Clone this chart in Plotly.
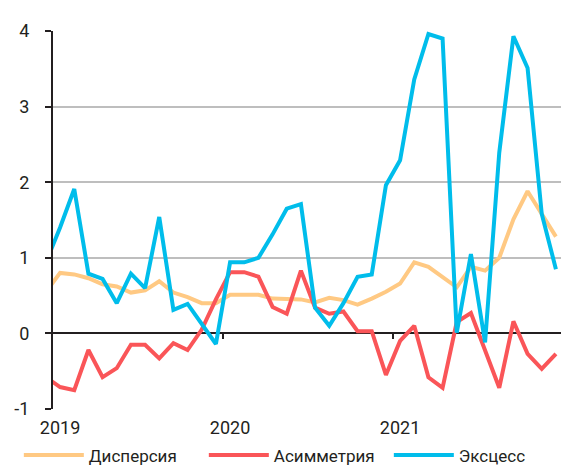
import plotly.graph_objects as go

# Monthly observations, Dec 2018 .. Dec 2021 (first point lies just left of the axis start)
months = ["2018-12",
          "2019-01", "2019-02", "2019-03", "2019-04", "2019-05", "2019-06",
          "2019-07", "2019-08", "2019-09", "2019-10", "2019-11", "2019-12",
          "2020-01", "2020-02", "2020-03", "2020-04", "2020-05", "2020-06",
          "2020-07", "2020-08", "2020-09", "2020-10", "2020-11", "2020-12",
          "2021-01", "2021-02", "2021-03", "2021-04", "2021-05", "2021-06",
          "2021-07", "2021-08", "2021-09", "2021-10", "2021-11", "2021-12"]

dispersion = [0.55,
              0.80, 0.78, 0.73, 0.65, 0.62, 0.54, 0.57, 0.69, 0.54, 0.48, 0.40, 0.40,
              0.51, 0.51, 0.51, 0.46, 0.46, 0.45, 0.41, 0.47, 0.44, 0.38, 0.46, 0.55,
              0.66, 0.94, 0.88, 0.74, 0.61, 0.88, 0.83, 1.00, 1.51, 1.88, 1.58, 1.28]

asymmetry = [-0.58,
             -0.71, -0.75, -0.22, -0.58, -0.46, -0.15, -0.15, -0.33, -0.13, -0.22, 0.05, 0.45,
             0.81, 0.81, 0.75, 0.35, 0.26, 0.83, 0.34, 0.26, 0.29, 0.03, 0.03, -0.55,
             -0.10, 0.10, -0.58, -0.72, 0.15, 0.27, -0.23, -0.72, 0.16, -0.27, -0.47, -0.27]

excess = [0.94,
          1.40, 1.91, 0.79, 0.72, 0.40, 0.79, 0.60, 1.54, 0.31, 0.39, 0.12, -0.14,
          0.94, 0.94, 1.00, 1.31, 1.65, 1.71, 0.34, 0.10, 0.40, 0.75, 0.78, 1.96,
          2.29, 3.36, 3.96, 3.90, 0.01, 1.05, -0.12, 2.39, 3.93, 3.51, 1.58, 0.85]

names = ["Дисперсия", "Асимметрия", "Эксцесс"]
colors = ["#FFC983", "#FA5558", "#00BDEB"]

year_ticks = [1, 13, 25]
year_labels = ["2019", "2020", "2021"]
boundary_ticks = [12.5, 24.5, 36.5]
y_ticks = [-1, 0, 1, 2, 3, 4]
y_labels = ["-1", "0", "1", "2", "3", "4"]

x = list(range(len(months)))

fig = go.Figure()
for name, vals, col in zip(names, [dispersion, asymmetry, excess], colors):
    fig.add_trace(go.Scatter(x=x, y=vals, mode="lines", name=name,
                             line=dict(color=col, width=4), hoverinfo="skip"))

# invisible carrier trace so the zero-crossing category axis (xaxis2) is drawn
fig.add_trace(go.Scatter(x=[x[1]], y=[0], xaxis="x2", yaxis="y", mode="lines",
                         showlegend=False, hoverinfo="skip",
                         line=dict(color="rgba(0,0,0,0)")))

font = dict(family="Roboto, sans-serif", size=18, color="#231F20")

fig.update_layout(
    width=569, height=466,
    margin=dict(l=45, r=14, t=23, b=65, autoexpand=False),
    paper_bgcolor="white", plot_bgcolor="white",
    font=font,
    showlegend=True,
    legend=dict(orientation="h", x=-0.067, xanchor="left", y=-0.075, yanchor="top",
                font=dict(family="Roboto, sans-serif", size=17, color="#231F20"),
                entrywidth=110, entrywidthmode="pixels", itemwidth=60,
                bgcolor="rgba(0,0,0,0)"),
    xaxis=dict(range=[0.5, 36.5], tickmode="array", tickvals=year_ticks, ticktext=year_labels,
               showgrid=False, zeroline=False, showline=False, ticks="",
               ticklabelstandoff=6, tickfont=font),
    xaxis2=dict(overlaying="x", matches="x", anchor="free", position=0.2,
                showline=True, linecolor="#231F20", linewidth=2,
                ticks="outside", ticklen=5, tickwidth=2, tickcolor="#231F20",
                tickmode="array", tickvals=boundary_ticks, showticklabels=False,
                showgrid=False, zeroline=False, layer="below traces"),
    yaxis=dict(range=[-1, 4], tickmode="array", tickvals=y_ticks, ticktext=y_labels,
               showgrid=True, gridcolor="#BEBEBE", gridwidth=1.5, zeroline=False,
               showline=True, linecolor="#231F20", linewidth=2,
               ticks="outside", ticklen=6, tickwidth=2, tickcolor="#231F20",
               ticklabelstandoff=12, tickfont=font),
)

fig.write_html("out.html")
